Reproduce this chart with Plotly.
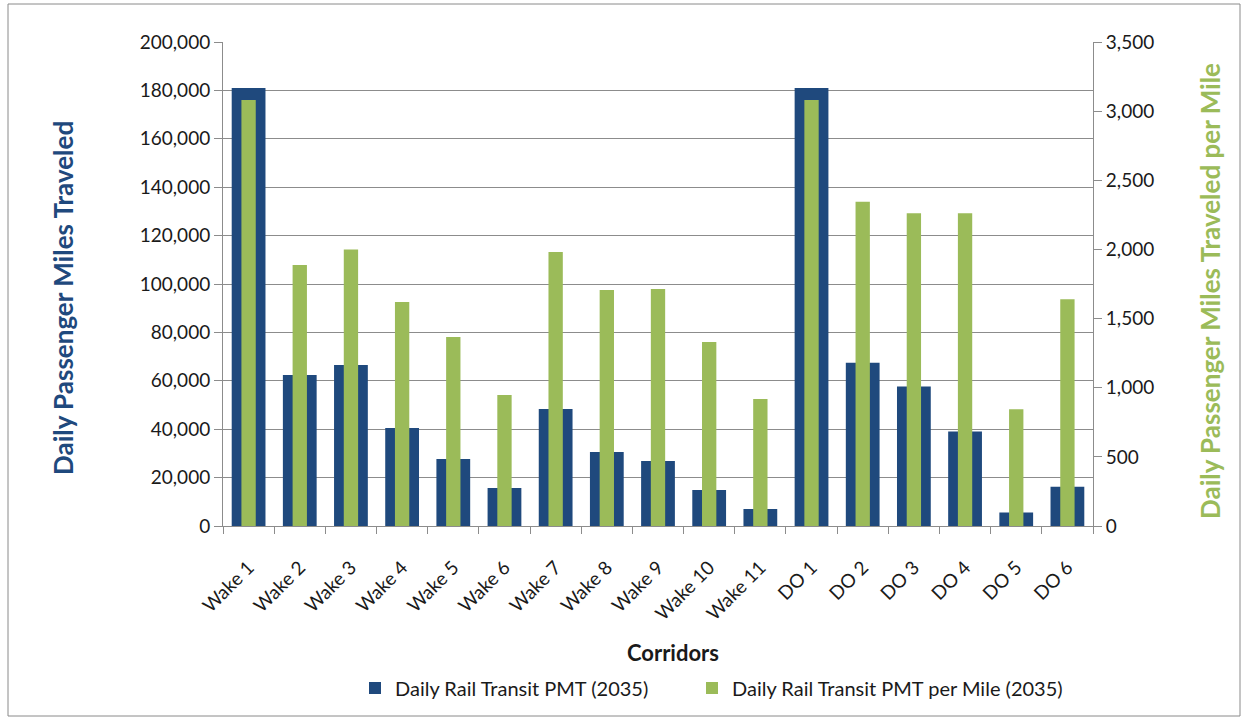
import plotly.graph_objects as go

corridors = ["Wake 1", "Wake 2", "Wake 3", "Wake 4", "Wake 5", "Wake 6", "Wake 7",
             "Wake 8", "Wake 9", "Wake 10", "Wake 11", "DO 1", "DO 2", "DO 3",
             "DO 4", "DO 5", "DO 6"]
pmt_2035 = [181000, 62400, 66500, 40500, 27700, 15700, 48300, 30600, 26900,
            14900, 7000, 181000, 67500, 57600, 39000, 5600, 16200]
pmt_per_mile_2035 = [3080, 1887, 2000, 1620, 1367, 947, 1981, 1706, 1714,
                     1330, 918, 3080, 2345, 2261, 2261, 844, 1639]
left_ticks = list(range(0, 200001, 20000))
right_ticks = list(range(0, 3501, 500))

BLUE = "#1F497D"
GREEN = "#9BBB59"
GRID = "#8C8C8C"
FONT = "Lato, 'Open Sans', sans-serif"

# plot-area geometry in pixels, used to place annotations in paper units
L, R, T, B = 223, 1093, 42, 526
def px(x):
    return (x - L) / (R - L)
def py(y):
    return (B - y) / (B - T)

fig = go.Figure()
fig.add_trace(go.Bar(
    x=corridors, y=pmt_2035, name="Daily Rail Transit PMT (2035)",
    marker=dict(color=BLUE, line=dict(width=0)), width=0.66, yaxis="y",
    legend="legend"))
fig.add_trace(go.Bar(
    x=corridors, y=pmt_per_mile_2035, name="Daily Rail Transit PMT per Mile (2035)",
    marker=dict(color=GREEN, line=dict(width=0)), width=0.28, yaxis="y2",
    legend="legend2"))

legend_common = dict(orientation="h", yanchor="middle", xanchor="left",
                     font=dict(size=20), itemwidth=30, bgcolor="rgba(0,0,0,0)")

fig.update_layout(
    width=1246, height=719,
    margin=dict(l=L, r=1246 - R, t=T, b=719 - B),
    paper_bgcolor="white", plot_bgcolor="white",
    barmode="overlay",
    font=dict(family=FONT, size=19, color="#1a1a1a"),
    showlegend=True,
    legend=dict(x=px(355), y=py(688), **legend_common),
    legend2=dict(x=px(692), y=py(688), **legend_common),
    xaxis=dict(type="category", tickangle=-45, tickson="boundaries",
               ticks="outside", ticklen=7, tickcolor=GRID,
               showline=True, linecolor=GRID, linewidth=1,
               showgrid=False, tickfont=dict(size=19), ticklabelstandoff=22),
    yaxis=dict(range=[0, 200000], tickvals=left_ticks, tickformat=",d",
               showgrid=True, gridcolor=GRID, gridwidth=1,
               showline=True, linecolor=GRID, ticks="outside", ticklen=8,
               tickcolor=GRID, zeroline=False, tickfont=dict(size=19)),
    yaxis2=dict(range=[0, 3500], tickvals=right_ticks, tickformat=",d",
                overlaying="y", side="right", showgrid=False,
                showline=True, linecolor=GRID, ticks="outside", ticklen=8,
                tickcolor=GRID, zeroline=False, tickfont=dict(size=19)),
    annotations=[
        dict(text="<b>Corridors</b>", x=px(673), y=py(652),
             xref="paper", yref="paper", showarrow=False,
             xanchor="center", yanchor="middle",
             font=dict(size=22, color="#1a1a1a")),
        dict(text="<b>Daily Passenger Miles Traveled</b>", x=px(63), y=py(298),
             xref="paper", yref="paper", showarrow=False, textangle=-90,
             xanchor="center", yanchor="middle",
             font=dict(size=26, color=BLUE)),
        dict(text="<b>Daily Passenger Miles Traveled per Mile</b>", x=px(1210), y=py(291),
             xref="paper", yref="paper", showarrow=False, textangle=-90,
             xanchor="center", yanchor="middle",
             font=dict(size=26, color=GREEN)),
    ],
    shapes=[dict(type="rect", xref="paper", yref="paper",
                 x0=px(8), x1=px(1240), y0=py(716), y1=py(4),
                 line=dict(color="#8a8a8a", width=1), fillcolor="rgba(0,0,0,0)")],
)

fig.write_html("out.html")
